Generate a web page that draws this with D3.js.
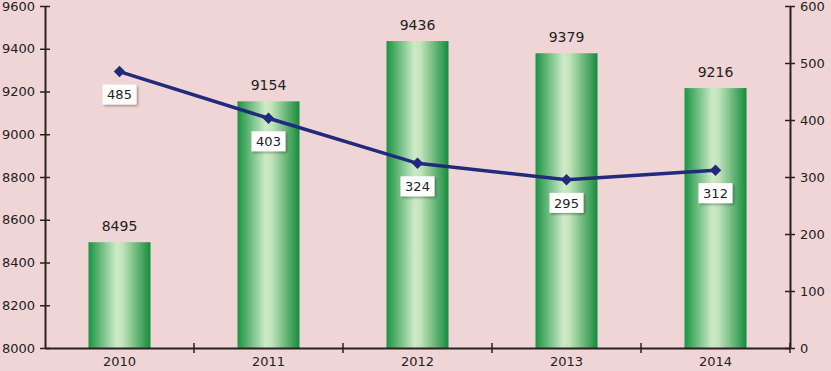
<!DOCTYPE html>
<html>
<head>
<meta charset="utf-8">
<script src="https://cdn.jsdelivr.net/npm/d3@7"></script>
<style>
body { margin: 0; background: #f0d5d6; }
svg { display: block; font-family: "DejaVu Sans", Verdana, sans-serif; }
</style>
</head>
<body>
<svg width="831" height="371"></svg>
<script>
var years = ["2010", "2011", "2012", "2013", "2014"];
var barValues = [8495, 9154, 9436, 9379, 9216];
var lineValues = [485, 403, 324, 295, 312];
var leftTicks = [8000, 8200, 8400, 8600, 8800, 9000, 9200, 9400, 9600];
var rightTicks = [0, 100, 200, 300, 400, 500, 600];

function draw() {
	var svg = d3.select("svg");
	var plotLeft = 45, plotRight = 790, plotTop = 6, plotBottom = 348;

	var x = d3.scaleBand().domain(years).range([plotLeft, plotRight]);
	var yL = d3.scaleLinear().domain([8000, 9600]).range([plotBottom, plotTop]);
	var yR = d3.scaleLinear().domain([0, 600]).range([plotBottom, plotTop]);

	var defs = svg.append("defs");
	var grad = defs.append("linearGradient").attr("id", "barGrad")
		.attr("x1", "0%").attr("x2", "100%").attr("y1", "0%").attr("y2", "0%");
	grad.append("stop").attr("offset", "0%").attr("stop-color", "#1b9443");
	grad.append("stop").attr("offset", "45%").attr("stop-color", "#cdeac7");
	grad.append("stop").attr("offset", "55%").attr("stop-color", "#c2e4bb");
	grad.append("stop").attr("offset", "100%").attr("stop-color", "#158c3c");

	var shadow = defs.append("filter").attr("id", "shadow")
		.attr("x", "-20%").attr("y", "-20%").attr("width", "150%").attr("height", "150%");
	shadow.append("feDropShadow").attr("dx", 1.5).attr("dy", 1.5)
		.attr("stdDeviation", 1).attr("flood-color", "#000").attr("flood-opacity", 0.35);

	var barW = 62;
	var cx = (d, i) => x(years[i]) + x.bandwidth() / 2;

	// bars
	svg.selectAll("rect.bar")
		.data(barValues)
		.enter()
		.append("rect")
		.attr("class", "bar")
		.attr("x", (d, i) => cx(d, i) - barW / 2)
		.attr("y", d => yL(d))
		.attr("width", barW)
		.attr("height", d => plotBottom - yL(d))
		.attr("fill", "url(#barGrad)");

	svg.selectAll("text.barlabel")
		.data(barValues)
		.enter()
		.append("text")
		.attr("class", "barlabel")
		.attr("x", cx)
		.attr("y", d => yL(d) - 11)
		.attr("text-anchor", "middle")
		.attr("font-size", 14)
		.attr("fill", "#222")
		.text(d => d);

	// axes
	var axisColor = "#2b2020";
	var leftAxis = svg.append("g").attr("transform", "translate(" + plotLeft + ",0)")
		.call(d3.axisLeft(yL).tickValues(leftTicks).tickFormat(d3.format("d")).tickSize(5).tickSizeOuter(0));
	leftAxis.selectAll(".tick line").attr("x1", 5).attr("x2", -5);

	var rightAxis = svg.append("g").attr("transform", "translate(" + plotRight + ",0)")
		.call(d3.axisRight(yR).tickValues(rightTicks).tickFormat(d3.format("d")).tickSize(5).tickSizeOuter(0));
	rightAxis.selectAll(".tick line").attr("x1", -5).attr("x2", 5);

	var bottomAxis = svg.append("g").attr("transform", "translate(0," + plotBottom + ")")
		.call(d3.axisBottom(x).tickSize(0).tickSizeOuter(0));
	bottomAxis.selectAll(".tick text").attr("dy", "1.15em");
	bottomAxis.selectAll("line.sep")
		.data(years.slice(1).concat(["end"]))
		.enter()
		.append("line")
		.attr("class", "sep")
		.attr("x1", d => d === "end" ? plotRight : x(d))
		.attr("x2", d => d === "end" ? plotRight : x(d))
		.attr("y1", -5).attr("y2", 5);

	[leftAxis, rightAxis, bottomAxis].forEach(g => {
		g.selectAll("path.domain").attr("stroke", axisColor).attr("stroke-width", 2);
		g.selectAll("line").attr("stroke", axisColor).attr("stroke-width", 1.5);
		g.selectAll("text").attr("font-size", 13).attr("fill", "#222")
			.attr("font-family", "DejaVu Sans, Verdana, sans-serif");
	});
	leftAxis.selectAll(".tick text").attr("x", -10);
	rightAxis.selectAll(".tick text").attr("x", 10);

	// line
	svg.append("path")
		.datum(lineValues)
		.attr("d", d3.line().x(cx).y(d => yR(d)))
		.attr("fill", "none")
		.attr("stroke", "#222a7c")
		.attr("stroke-width", 3.5);

	svg.selectAll("path.marker")
		.data(lineValues)
		.enter()
		.append("path")
		.attr("class", "marker")
		.attr("d", d3.symbol().type(d3.symbolDiamond2).size(85))
		.attr("transform", (d, i) => "translate(" + cx(d, i) + "," + yR(d) + ")")
		.attr("fill", "#222a7c");

	var labels = svg.selectAll("g.linelabel")
		.data(lineValues)
		.enter()
		.append("g")
		.attr("class", "linelabel")
		.attr("transform", (d, i) => "translate(" + cx(d, i) + "," + (yR(d) + 23) + ")");
	labels.append("rect")
		.attr("x", -17).attr("y", -10).attr("width", 34).attr("height", 20)
		.attr("fill", "#fff").attr("filter", "url(#shadow)");
	labels.append("text")
		.attr("text-anchor", "middle")
		.attr("dy", "0.36em")
		.attr("font-size", 13)
		.attr("fill", "#222")
		.text(d => d);
}

draw();
</script>
</body>
</html>
